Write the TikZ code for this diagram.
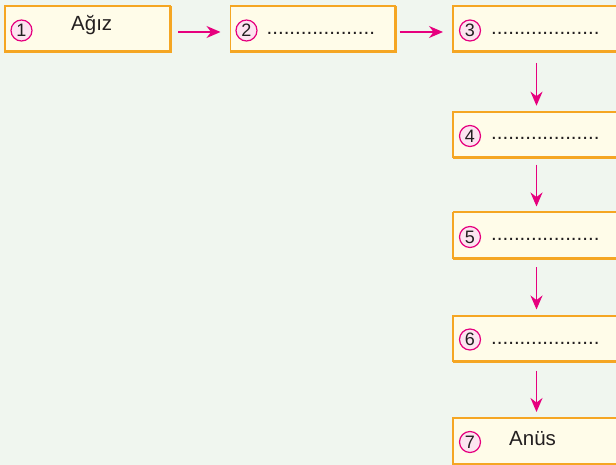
\documentclass[tikz,border=0pt]{standalone}
\usepackage{fontspec}
\setmainfont{Liberation Sans}
\usetikzlibrary{arrows.meta}
\definecolor{bg}{HTML}{F0F6EF}
\definecolor{boxfill}{HTML}{FFFCE9}
\definecolor{boxline}{HTML}{F5A623}
\definecolor{mag}{HTML}{E6007E}
\definecolor{pinkfill}{HTML}{FCE4F0}
\definecolor{txt}{HTML}{231F20}
\begin{document}
\begin{tikzpicture}[x=1pt,y=-1pt,
  stepbox/.style={draw=boxline, fill=boxfill, line width=1.4pt, minimum width=165pt, minimum height=46pt, inner sep=0pt, outer sep=0pt},
  num/.style={circle, draw=mag, fill=pinkfill, line width=1.2pt, minimum size=21pt, inner sep=0pt, font=\fontsize{18}{18}\selectfont, text=txt},
  lbl/.style={anchor=base west, inner sep=0pt, font=\fontsize{20.5}{20.5}\selectfont, text=txt},
  dotline/.style={anchor=base west, inner sep=0pt, font=\fontsize{20.5}{20.5}\selectfont, text=txt},
  flow/.style={draw=mag, line width=1.5pt, -{Stealth[length=14pt,width=12pt]}}
]
\fill[bg] (0,0) rectangle (616,465);
\useasboundingbox (0,0) rectangle (616,465);

% boxes
\node[stepbox] (b1) at (87.5,29) {};
\node[stepbox] (b2) at (313,29) {};
\node[stepbox, minimum width=167pt] (b3) at (536.5,29) {};
\node[stepbox, minimum width=167pt] (b4) at (536.5,134.7) {};
\node[stepbox, minimum width=167pt] (b5) at (536.5,235.5) {};
\node[stepbox, minimum width=167pt] (b6) at (536.5,338.5) {};
\node[stepbox, minimum width=167pt] (b7) at (536.5,441) {};
\foreach \b in {b1,b2,b3,b4,b5,b6,b7}{
  \draw[boxline, line width=3pt] (\b.south west) -- (\b.south east) -- (\b.north east);
  \draw[boxline, line width=2pt] (\b.north west) -- (\b.north east);
}

% numbers
\node[num] (n1) at (21.5,30.5) {1};
\node[num] (n2) at (246.5,30.5) {2};
\node[num] (n3) at (470,30.5) {3};
\node[num] (n4) at (470,136) {4};
\node[num] (n5) at (470,237) {5};
\node[num] (n6) at (470,339.5) {6};
\node[num] (n7) at (470,442) {7};

% texts
\node[lbl] (t1) at (71,31) {Ağız};
\node[lbl] (t7) at (509,445.7) {Anüs};
\node[dotline] (d2) at (266.5,34.5) {...................};
\node[dotline] (d3) at (491,34.5) {...................};
\node[dotline] (d4) at (491,140) {...................};
\node[dotline] (d5) at (491,241) {...................};
\node[dotline] (d6) at (491,344) {...................};

% arrows
\draw[flow, shorten <=8pt, shorten >=10pt] ([yshift=-3pt]b1.east) -- ([yshift=-3pt]b2.west);
\draw[flow, shorten <=4pt, shorten >=10pt] ([yshift=-3pt]b2.east) -- ([yshift=-3pt]b3.west);
\draw[flow, shorten <=11pt, shorten >=6pt] (b3.south) -- (b4.north);
\draw[flow, shorten <=7pt, shorten >=6pt] (b4.south) -- (b5.north);
\draw[flow, shorten <=9pt, shorten >=6pt] (b5.south) -- (b6.north);
\draw[flow, shorten <=9pt, shorten >=6pt] (b6.south) -- (b7.north);
\end{tikzpicture}
\end{document}
